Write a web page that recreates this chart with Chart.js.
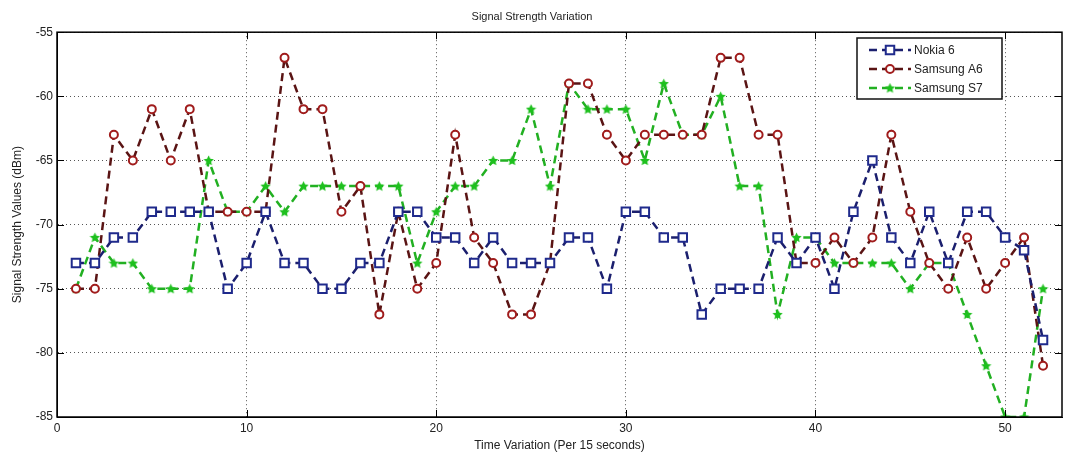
<!DOCTYPE html>
<html>
<head>
<meta charset="utf-8">
<script src="https://cdn.jsdelivr.net/npm/chart.js@4.4.0/dist/chart.umd.min.js"></script>
<style>
  body { margin: 0; background: #fff; }
</style>
</head>
<body>
<canvas id="myChart" width="1070" height="454"></canvas>
<script>
let timeSteps = [1,2,3,4,5,6,7,8,9,10,11,12,13,14,15,16,17,18,19,20,21,22,23,24,25,26,
                 27,28,29,30,31,32,33,34,35,36,37,38,39,40,41,42,43,44,45,46,47,48,49,50,51,52];
let nokia6 = [-73,-73,-71,-71,-69,-69,-69,-69,-75,-73,
              -69,-73,-73,-75,-75,-73,-73,-69,-69,-71,
              -71,-73,-71,-73,-73,-73,-71,-71,-75,-69,
              -69,-71,-71,-77,-75,-75,-75,-71,-73,-71,
              -75,-69,-65,-71,-73,-69,-73,-69,-69,-71,-72,-79];
let samsungA6 = [-75,-75,-63,-65,-61,-65,-61,-69,-69,-69,
                 -69,-57,-61,-61,-69,-67,-77,-69,-75,-73,
                 -63,-71,-73,-77,-77,-73,-59,-59,-63,-65,
                 -63,-63,-63,-63,-57,-57,-63,-63,-73,-73,
                 -71,-73,-71,-63,-69,-73,-75,-71,-75,-73,-71,-81];
let samsungS7 = [-75,-71,-73,-73,-75,-75,-75,-65,-69,-69,
                 -67,-69,-67,-67,-67,-67,-67,-67,-73,-69,
                 -67,-67,-65,-65,-61,-67,-59,-61,-61,-61,
                 -65,-59,-63,-63,-60,-67,-67,-77,-71,-71,
                 -73,-73,-73,-73,-75,-73,-73,-77,-81,-85,-85,-75];
let seriesNames = ['Nokia 6', 'Samsung A6', 'Samsung S7'];
let xTicks = [0, 10, 20, 30, 40, 50];
let yTicks = [-85, -80, -75, -70, -65, -60, -55];

const toPoints = (vals) => vals.map((v, i) => ({x: timeSteps[i], y: v}));

// filled pentagram marker for the S7 series
const makeStar = (color) => {
    const c = document.createElement('canvas');
    c.width = 11; c.height = 11;
    const g = c.getContext('2d');
    g.fillStyle = color;
    g.beginPath();
    for (let i = 0; i < 10; i++) {
        const r = i % 2 === 0 ? 5.4 : 2.6;
        const a = -Math.PI / 2 + i * Math.PI / 5;
        const px = 5.5 + r * Math.cos(a), py = 5.9 + r * Math.sin(a);
        if (i === 0) g.moveTo(px, py); else g.lineTo(px, py);
    }
    g.closePath();
    g.fill();
    return c;
};
const starMarker = makeStar('#1ec01e');

const font = {family: '"Liberation Sans", Arial, sans-serif', size: 12};

const boxAndLegend = {
    id: 'box_and_legend',
    afterDraw: (chart) => {
        const ctx = chart.ctx;
        const a = chart.chartArea;
        const xs = chart.scales.x, ys = chart.scales.y;
        ctx.save();
        // inward ticks
        ctx.strokeStyle = '#000';
        ctx.lineWidth = 1;
        ctx.beginPath();
        xTicks.forEach(t => {
            const px = Math.round(xs.getPixelForValue(t)) + 0.5;
            ctx.moveTo(px, a.bottom); ctx.lineTo(px, a.bottom - 7);
            ctx.moveTo(px, a.top); ctx.lineTo(px, a.top + 7);
        });
        yTicks.forEach(t => {
            const py = Math.round(ys.getPixelForValue(t)) + 0.5;
            ctx.moveTo(a.left, py); ctx.lineTo(a.left + 7, py);
            ctx.moveTo(a.right, py); ctx.lineTo(a.right - 7, py);
        });
        ctx.stroke();
        // box
        ctx.lineWidth = 1.5;
        ctx.strokeRect(a.left, a.top, a.right - a.left, a.bottom - a.top);

        // legend
        const lx = 857, ly = 38, lw = 145, lh = 61;
        ctx.fillStyle = '#fff';
        ctx.fillRect(lx, ly, lw, lh);
        ctx.lineWidth = 1.5;
        ctx.strokeStyle = '#111';
        ctx.strokeRect(lx, ly, lw, lh);
        chart.data.datasets.forEach((ds, i) => {
            const y = ly + 12 + i * 19;
            ctx.save();
            ctx.strokeStyle = ds.borderColor;
            ctx.lineWidth = ds.borderWidth;
            ctx.setLineDash(ds.borderDash);
            ctx.beginPath();
            ctx.moveTo(lx + 12, y); ctx.lineTo(lx + 54, y);
            ctx.stroke();
            ctx.restore();

            ctx.save();
            ctx.fillStyle = ds.pointBackgroundColor;
            ctx.strokeStyle = ds.pointBorderColor;
            ctx.lineWidth = ds.pointBorderWidth;
            Chart.helpers.drawPoint(ctx, {
                pointStyle: ds.pointStyle,
                radius: ds.pointRadius,
                borderWidth: ds.pointBorderWidth,
                rotation: 0
            }, lx + 33, y);
            ctx.restore();

            ctx.fillStyle = '#222';
            ctx.font = '12px "Liberation Sans", Arial, sans-serif';
            ctx.textBaseline = 'middle';
            ctx.fillText(ds.label, lx + 57, y + 1);
        });
        ctx.restore();
    },
    beforeDraw: (chart) => {
        const ctx = chart.canvas.getContext('2d');
        ctx.save();
        ctx.globalCompositeOperation = 'destination-over';
        ctx.fillStyle = 'white';
        ctx.fillRect(0, 0, chart.width, chart.height);
        ctx.restore();
    }
};

var ctx = document.getElementById('myChart').getContext('2d');

const init = () => {
    var myChart = new Chart(ctx, {
        type: 'line',
        plugins: [boxAndLegend],
        data: {
            datasets: [{
                label: seriesNames[0],
                data: toPoints(nokia6),
                borderColor: '#1b1f6e',
                borderWidth: 2.5,
                borderDash: [8, 5],
                pointStyle: 'rect',
                pointRadius: 6,
                pointBorderWidth: 2,
                pointBorderColor: '#1f2a8c',
                pointBackgroundColor: '#ffffff',
                tension: 0
            }, {
                label: seriesNames[1],
                data: toPoints(samsungA6),
                borderColor: '#5a1414',
                borderWidth: 2.5,
                borderDash: [8, 5],
                pointStyle: 'circle',
                pointRadius: 4,
                pointBorderWidth: 2,
                pointBorderColor: '#a01c1c',
                pointBackgroundColor: '#ffffff',
                tension: 0
            }, {
                label: seriesNames[2],
                data: toPoints(samsungS7),
                borderColor: '#22b022',
                borderWidth: 2.5,
                borderDash: [8, 5],
                pointStyle: starMarker,
                pointRadius: 5,
                pointBorderWidth: 0,
                pointBorderColor: '#1ec01e',
                pointBackgroundColor: '#1ec01e',
                tension: 0
            }]
        },
        options: {
            responsive: false,
            animation: false,
            layout: {padding: {top: 0, right: 6, bottom: 0, left: 0}},
            plugins: {
                legend: {display: false},
                tooltip: {enabled: false},
                title: {
                    display: true,
                    text: 'Signal Strength Variation',
                    color: '#222',
                    font: {family: font.family, size: 11, weight: 'normal'},
                    padding: {top: 10, bottom: 9}
                }
            },
            scales: {
                x: {
                    type: 'linear',
                    min: 0,
                    max: 53,
                    ticks: {stepSize: 10, includeBounds: false, color: '#222', font: font, padding: 4, maxRotation: 0},
                    grid: {color: '#555', lineWidth: 1, drawTicks: false},
                    border: {display: true, color: '#000', dash: [1, 3]},
                    title: {display: true, text: 'Time Variation (Per 15 seconds)', color: '#222', font: font, padding: {top: 0, bottom: 1}},
                    afterFit: (s) => { s.height = 37; }
                },
                y: {
                    min: -85,
                    max: -55,
                    ticks: {stepSize: 5, includeBounds: false, color: '#222', font: font, padding: 4},
                    grid: {color: '#555', lineWidth: 1, drawTicks: false},
                    border: {display: true, color: '#000', dash: [1, 3]},
                    title: {display: true, text: 'Signal Strength Values (dBm)', color: '#222', font: font, padding: {top: 10, bottom: 2}},
                    afterFit: (s) => { s.width = 57; }
                }
            }
        }
    });
};

init();
</script>
</body>
</html>
